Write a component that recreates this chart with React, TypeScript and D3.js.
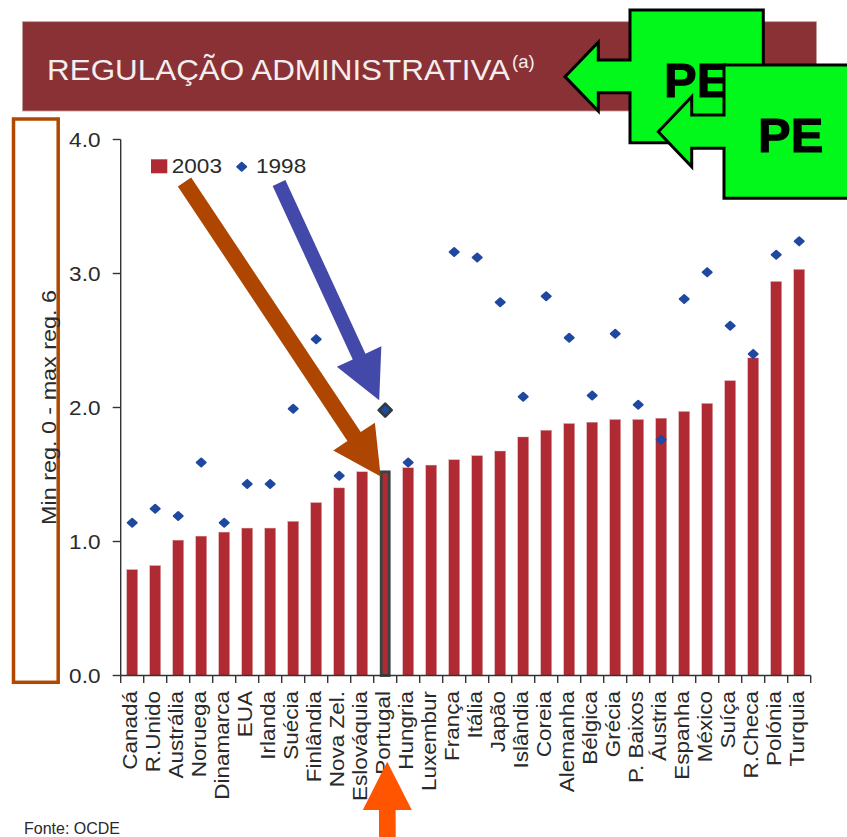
import React from "react";
import * as d3 from "d3";

const countries = [
  "Canadá", "R.Unido", "Austrália", "Noruega", "Dinamarca", "EUA", "Irlanda",
  "Suécia", "Finlândia", "Nova Zel.", "Eslováquia", "Portugal", "Hungria",
  "Luxembur", "França", "Itália", "Japão", "Islândia", "Coreia", "Alemanha",
  "Bélgica", "Grécia", "P. Baixos", "Áustria", "Espanha", "México", "Suíça",
  "R.Checa", "Polónia", "Turquia",
];
const score2003 = [
  0.79, 0.82, 1.01, 1.04, 1.07, 1.1, 1.1, 1.15, 1.29, 1.4, 1.52, 1.53, 1.55,
  1.57, 1.61, 1.64, 1.675, 1.78, 1.83, 1.88, 1.89, 1.91, 1.91, 1.92, 1.97,
  2.03, 2.2, 2.37, 2.94, 3.03,
];
const score1998: (number | null)[] = [
  1.14, 1.245, 1.19, 1.59, 1.14, 1.43, 1.43, 1.99, 2.51, 1.49, null, 1.98,
  1.59, null, 3.16, 3.12, 2.785, 2.08, 2.83, 2.52, 2.09, 2.55, 2.02, 1.76,
  2.81, 3.01, 2.61, 2.4, 3.14, 3.24,
];
const yTicks = [0, 1, 2, 3, 4];
const legendLabels = ["2003", "1998"];
const highlight = "Portugal";
const titleText = "REGULAÇÃO ADMINISTRATIVA";
const titleNote = "(a)";
const yLabel = "Min reg. 0 - max reg. 6";
const sourceText = "Fonte: OCDE";
const calloutText = "PE";

const W = 847;
const H = 837;
const FONT = "'Liberation Sans', Arial, Helvetica, sans-serif";
const BAR = "#b02a33";
const DOT = "#1f48a0";
const AXIS = "#333333";
const TXT = "#2a2a2a";

function arrowPath(x0: number, y0: number, x1: number, y1: number, sw: number, hw: number, hl: number) {
  const dx = x1 - x0, dy = y1 - y0;
  const L = Math.hypot(dx, dy);
  const ux = dx / L, uy = dy / L;
  const px = -uy, py = ux;
  const bx = x1 - ux * hl, by = y1 - uy * hl;
  const p = d3.path();
  p.moveTo(x0 + px * sw / 2, y0 + py * sw / 2);
  p.lineTo(bx + px * sw / 2, by + py * sw / 2);
  p.lineTo(bx + px * hw / 2, by + py * hw / 2);
  p.lineTo(x1, y1);
  p.lineTo(bx - px * hw / 2, by - py * hw / 2);
  p.lineTo(bx - px * sw / 2, by - py * sw / 2);
  p.lineTo(x0 - px * sw / 2, y0 - py * sw / 2);
  p.closePath();
  return p.toString();
}

function callout(left: number, top: number, right: number, bottom: number, shaftTop: number, shaftBot: number, headBack: number, headTop: number, headBot: number, tipX: number) {
  const p = d3.path();
  const tipY = (headTop + headBot) / 2;
  p.moveTo(right, top);
  p.lineTo(left, top);
  p.lineTo(left, shaftTop);
  p.lineTo(headBack, shaftTop);
  p.lineTo(headBack, headTop);
  p.lineTo(tipX, tipY);
  p.lineTo(headBack, headBot);
  p.lineTo(headBack, shaftBot);
  p.lineTo(left, shaftBot);
  p.lineTo(left, bottom);
  p.lineTo(right, bottom);
  p.closePath();
  return p.toString();
}

function diamond(cx: number, cy: number, hw: number, hh: number) {
  const p = d3.path();
  p.moveTo(cx - hw, cy);
  p.lineTo(cx, cy - hh);
  p.lineTo(cx + hw, cy);
  p.lineTo(cx, cy + hh);
  p.closePath();
  return p.toString();
}

export default function App() {
  const plotLeft = 120.7, plotRight = 810.7, plotTop = 139.5, plotBottom = 675.5;
  const pad = 0.53;
  const x = d3.scaleBand<string>().domain(countries).range([plotLeft, plotRight]).paddingInner(pad).paddingOuter(pad / 2);
  const y = d3.scaleLinear().domain([0, 4]).range([plotBottom, plotTop]);
  const bw = x.bandwidth();
  const step = x.step();
  const cx = (c: string) => (x(c) as number) + bw / 2;
  const boundaries = countries.map((c) => cx(c) - step / 2).concat([cx(countries[countries.length - 1]) + step / 2]);
  const fmt = d3.format(".1f");
  const hi = countries.indexOf(highlight);
  const hx = cx(highlight);
  const y03 = y(score2003[hi]);
  const y98 = y(score1998[hi] as number);

  return (
    <svg width={W} height={H} style={{ position: "absolute", left: 0, top: 0, background: "#fff" }} fontFamily={FONT}>
      {/* title banner */}
      <rect x={22.5} y={21.7} width={794} height={89.3} fill="#893135" stroke="#c49a9a" strokeWidth={0.8} />
      <text x={47} y={80} fontSize={30.3} fill="#f5eeee" textLength={463} lengthAdjust="spacingAndGlyphs">{titleText}</text>
      <text x={512} y={67.8} fontSize={18.5} fill="#f5eeee">{titleNote}</text>

      {/* y label box */}
      <rect x={13.5} y={119} width={44.7} height={563.3} fill="none" stroke="#b04800" strokeWidth={3.5} />
      <text transform={`translate(55.5,407.5) rotate(-90) scale(1.14,1)`} textAnchor="middle" fontSize={20.5} fill={TXT}>{yLabel}</text>

      {/* axes */}
      <line x1={plotLeft} x2={plotLeft} y1={plotTop} y2={plotBottom} stroke={AXIS} strokeWidth={1.4} />
      {yTicks.map((t) => (
        <g key={"yt" + t}>
          <line x1={plotLeft - 8} x2={plotLeft} y1={y(t)} y2={y(t)} stroke={AXIS} strokeWidth={1.4} />
          <text transform={`translate(100.5,${y(t) + 7.5}) scale(1.13,1)`} textAnchor="end" fontSize={20} fill={TXT}>{fmt(t)}</text>
        </g>
      ))}

      {/* bars */}
      {countries.map((c, i) =>
        c === highlight ? (
          <rect key={c} x={(x(c) as number) + 1.4} y={y(score2003[i]) + 1.4} width={bw - 2.8} height={plotBottom - y(score2003[i]) - 1.4} fill={BAR} stroke="#3a4242" strokeWidth={2.8} />
        ) : (
          <rect key={c} x={x(c) as number} y={y(score2003[i])} width={bw} height={plotBottom - y(score2003[i])} fill={BAR} stroke="#d9a0a4" strokeWidth={0.4} />
        )
      )}

      <line x1={plotLeft} x2={plotRight} y1={plotBottom} y2={plotBottom} stroke={AXIS} strokeWidth={1.4} />
      {boundaries.map((b, i) => (
        <line key={"xt" + i} x1={b} x2={b} y1={plotBottom} y2={plotBottom + 7.5} stroke={AXIS} strokeWidth={1.4} />
      ))}

      {/* 1998 markers */}
      {countries.map((c, i) => {
        const v = score1998[i];
        if (v == null) return null;
        if (c === highlight) {
          return <path key={"d" + c} d={diamond(cx(c), y(v), 6.5, 6.5)} fill={DOT} stroke="#303a3a" strokeWidth={2.6} strokeLinejoin="round" />;
        }
        return <path key={"d" + c} d={diamond(cx(c), y(v), 4.5, 4.0)} fill={DOT} stroke={DOT} strokeWidth={2} strokeLinejoin="round" />;
      })}

      {/* country labels */}
      {countries.map((c) => (
        <text key={"l" + c} transform={`translate(${cx(c)},691) rotate(-90) scale(1.125,1)`} dy={4.5} textAnchor="end" fontSize={20} fill={TXT}>{c}</text>
      ))}

      {/* legend */}
      <rect x={151} y={159.3} width={16.3} height={14} fill={BAR} />
      <text transform="translate(171.7,173.3) scale(1.13,1)" fontSize={20} fill={TXT}>{legendLabels[0]}</text>
      <path d={diamond(241.7, 166.7, 4.5, 4.0)} fill={DOT} stroke={DOT} strokeWidth={2} strokeLinejoin="round" />
      <text transform="translate(256,173.3) scale(1.13,1)" fontSize={20} fill={TXT}>{legendLabels[1]}</text>

      {/* source */}
      <text x={24} y={834} fontSize={16} fill={TXT}>{sourceText}</text>

      {/* annotation arrows */}
      <path d={arrowPath(184.5, 182, hx - 4.5, y03 + 6, 16, 50, 48)} fill="#ae4500" />
      <path d={arrowPath(279, 183, hx - 6, y98 - 10, 14, 49, 48)} fill="#4349a8" />
      <path d={arrowPath(hx + 2.2, 850, hx + 2, 761.7, 16.7, 49, 48.3)} fill="#ff5500" />

      {/* PE callouts */}
      <path d={callout(630, 10, 763.3, 142.7, 60, 92.7, 598.3, 42.3, 111, 565)} fill="#02f81b" stroke="#000" strokeWidth={3} strokeLinejoin="miter" />
      <text x={664} y={96.7} fontSize={49} fontWeight="bold" fill="#000" stroke="#000" strokeWidth={1}>{calloutText}</text>
      <path d={callout(724, 65, 852, 198.3, 115, 148.3, 691.7, 96.7, 166.7, 658.3)} fill="#02f81b" stroke="#000" strokeWidth={3} strokeLinejoin="miter" />
      <text x={758} y={151.7} fontSize={49} fontWeight="bold" fill="#000" stroke="#000" strokeWidth={1}>{calloutText}</text>
    </svg>
  );
}
